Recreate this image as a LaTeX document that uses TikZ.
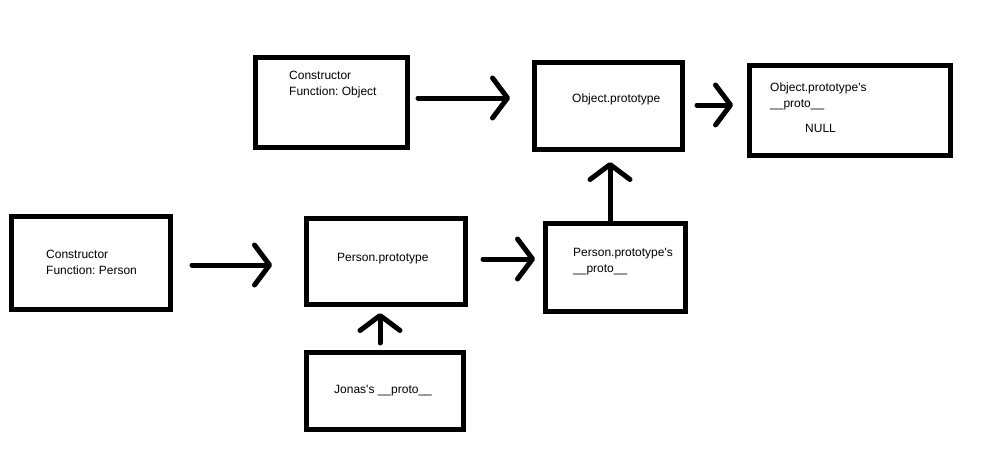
\documentclass[tikz,border=0pt]{standalone}
\usepackage{fontspec}
\setmainfont{Liberation Sans}
\usetikzlibrary{arrows.meta}
\frenchspacing
\begin{document}
\begin{tikzpicture}[x=1pt,y=-1pt,
  box/.style={draw, line width=5pt, inner sep=0pt, outer sep=0pt},
  lbl/.style={inner sep=0pt, anchor=west, align=left, font=\fontsize{12}{16}\selectfont},
  arr/.style={line width=5pt, line cap=round, -{Straight Barb[length=15pt,width=40pt,round]}}]
\useasboundingbox[fill=white] (0,0) rectangle (990,460);
% boxes
\node[box, minimum width=152pt, minimum height=90pt] (cfo) at (331.5,102.5) {};
\node[box, minimum width=148pt, minimum height=87pt] (op) at (608.5,106) {};
\node[box, minimum width=201pt, minimum height=90pt] (opp) at (850,110.5) {};
\node[box, minimum width=159pt, minimum height=93pt] (cfp) at (91,263) {};
\node[box, minimum width=159pt, minimum height=86pt] (pp) at (385.5,261.5) {};
\node[box, minimum width=140pt, minimum height=88pt] (ppp) at (615.5,267.5) {};
\node[box, minimum width=157pt, minimum height=77pt] (jon) at (385,391) {};
% texts
\node[lbl] (tcfo) at (289,85) {Constructor\\Function: Object};
\node[lbl] (top) at (572,99) {Object.prototype};
\node[lbl] (topp) at (770,96.5) {Object.prototype\textquotesingle s\\\_\_proto\_\_};
\node[lbl] (tnull) at (805,128) {NULL};
\node[lbl] (tcfp) at (46,262) {Constructor\\Function: Person};
\node[lbl] (tpp) at (337,259) {Person.prototype};
\node[lbl] (tppp) at (573,262) {Person.prototype\textquotesingle s\\\_\_proto\_\_};
\node[lbl] (tjon) at (334,391) {Jonas\textquotesingle s \_\_proto\_\_};
% arrows
\draw[arr, shorten <=10.5pt, shorten >=24.5pt] (cfo.east |- 0,98) -- (op.west |- 0,98);
\draw[arr, shorten <=14.5pt, shorten >=16.5pt] (op.east |- 0,105) -- (opp.west |- 0,105);
\draw[arr, shorten <=21.5pt, shorten >=34pt] (cfp.east |- 0,265) -- (pp.west |- 0,265);
\draw[arr, shorten <=18pt, shorten >=10.5pt] (pp.east |- 0,259) -- (ppp.west |- 0,259);
\draw[arr, shorten <=2pt, shorten >=12.5pt] (ppp.north -| 610,0) -- (op.south -| 610,0);
\draw[arr, shorten <=9.5pt, shorten >=8.5pt] (jon.north -| 380,0) -- (pp.south -| 380,0);
\end{tikzpicture}
\end{document}
